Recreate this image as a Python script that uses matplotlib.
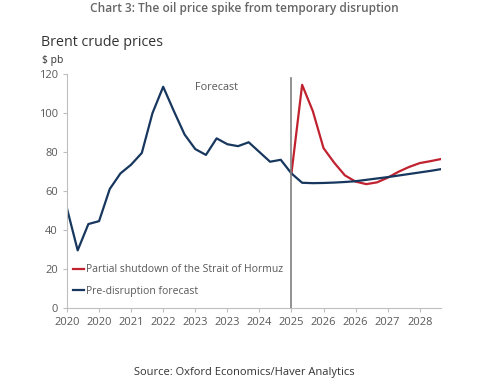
import numpy as np
import matplotlib.pyplot as plt

plt.rcParams['font.family'] = ['Open Sans', 'DejaVu Sans']

# quarterly, 2020Q1 .. 2028Q4
quarters = [f"{y}Q{q}" for y in range(2020, 2029) for q in range(1, 5)]
tick_labels = ['2020', '2020', '2021', '2022', '2023', '2023',
               '2024', '2025', '2026', '2026', '2027', '2028']

baseline = [51, 29.5, 43, 44.5, 61, 69, 73.5, 79.5, 100, 113.5, 101, 89,
            81.5, 78.5, 87, 84, 83, 85, 80, 75, 76, 69,
            64.2, 64.0, 64.1, 64.3, 64.6, 65.0, 65.7, 66.4, 67.1, 67.9,
            68.7, 69.5, 70.3, 71.2]
shutdown = [np.nan] * 21 + [69, 114.5, 101, 82, 74.5, 68, 64.8, 63.5, 64.4,
                           66.8, 69.8, 72.3, 74.3, 75.3, 76.4]

navy = '#17375E'
red = '#C0222F'
grey_txt = '#595959'

fig = plt.figure(figsize=(4.89, 3.8), dpi=100)
ax = fig.add_axes([0.137, 0.19, 0.765, 0.615])

x = np.arange(len(quarters))
ax.plot(x, shutdown, color=red, lw=1.6, label='Partial shutdown of the Strait of Hormuz')
ax.plot(x, baseline, color=navy, lw=1.6, label='Pre-disruption forecast')
ax.axvline(21, ymax=118 / 120, color='#7f7f7f', lw=1.2)
ax.text(14, 113, 'Forecast', ha='center', va='center', fontsize=7.8, color=grey_txt)

ax.set_xlim(0, 35)
ax.set_ylim(0, 120)
ax.set_xticks(x[::3])
ax.set_xticklabels(tick_labels)
ax.set_yticks(range(0, 121, 20))
for s in ['top', 'right']:
    ax.spines[s].set_visible(False)
for s in ['left', 'bottom']:
    ax.spines[s].set_color('#bfbfbf')
ax.tick_params(colors='#bfbfbf', labelcolor=grey_txt, labelsize=8, length=3, width=0.8)

leg = ax.legend(loc='lower left', bbox_to_anchor=(0.0, 0.02), frameon=False,
                fontsize=7.5, handlelength=1.0, handletextpad=0.2,
                labelspacing=1.0, borderaxespad=0.2)
for t in leg.get_texts():
    t.set_color(grey_txt)

fig.text(0.5, 0.995, 'Chart 3: The oil price spike from temporary disruption',
         ha='center', va='top', fontsize=8.6, color='#666666', fontweight='semibold')
fig.text(0.084, 0.888, 'Brent crude prices', ha='left', va='center',
         fontsize=10.3, color='#333333')
fig.text(0.086, 0.84, '$ pb', ha='left', va='center', fontsize=7.5, color='#333333')
fig.text(0.5, 0.004, 'Source: Oxford Economics/Haver Analytics', ha='center',
         va='bottom', fontsize=8, color='#333333')

fig.savefig('out.png', dpi=100)
